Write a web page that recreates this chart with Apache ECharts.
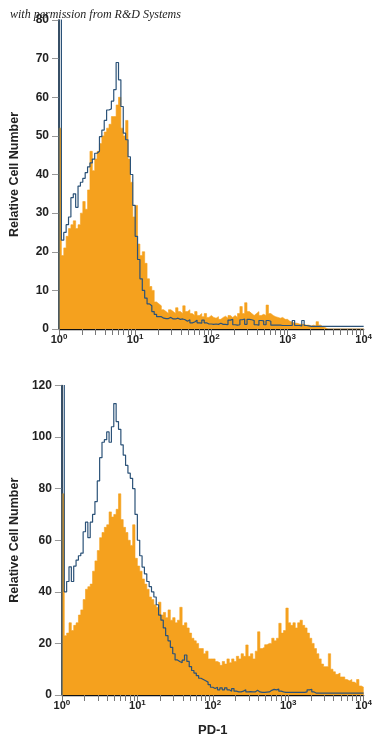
<!DOCTYPE html>
<html>
<head>
<meta charset="utf-8">
<script src="https://cdn.jsdelivr.net/npm/echarts@6/dist/echarts.min.js"></script>
<style>
html,body{margin:0;padding:0;background:#fff;}
#chart{width:375px;height:743px;}
</style>
</head>
<body>
<div id="chart"></div>
<script>
// Histogram channels: 32 bins per decade, 4 decades (10^0 .. 10^4)
const binsPerDecade = 32;
const decadeExponents = [0, 1, 2, 3, 4];
const minorMultipliers = [2, 3, 4, 5, 6, 7, 8, 9];
const yTitle = 'Relative Cell Number';
const xTitle = 'PD-1';
const credit = 'with permission from R&D Systems';

// Top panel: PD-1 stained (orange fill)
const topPD1 = [
  52, 19, 21, 24, 26, 27, 28, 26, 27, 30, 33, 31, 36, 46, 41, 44,
  46, 48, 50, 51, 52, 53, 55, 55, 58, 60, 52, 50, 54, 44, 38, 29,
  32, 22, 19, 20, 17, 13, 11, 10, 7, 6.5, 6, 5, 4.5, 4, 5, 4.5,
  4, 5.5, 4.5, 4, 6, 4.5, 5, 4, 3.5, 4.5, 3.5, 4, 3.2, 4, 3, 3.5,
  3, 2.8, 3.2, 2.5, 3, 3.3, 2.8, 3.5, 3, 3.5, 3, 4, 5.8, 4, 6.8, 4.5,
  4, 3.5, 4, 4.5, 3.5, 3.8, 3.5, 6.2, 4, 3.5, 3.2, 3, 2.8, 3, 2.5, 2.5,
  2, 1.8, 1.5, 1.5, 1.3, 1.2, 1.2, 1, 1, 0.8, 1, 0.8, 1.9, 1, 0.5, 0.3,
  0, 0, 0, 0, 0, 0, 0, 0, 0, 0, 0, 0, 0, 0, 0, 0
];
// Top panel: isotype control (blue outline)
const topIso = [
  95, 23, 25, 27, 29, 34, 35, 31.5, 37, 38, 39, 40.5, 42, 43, 44, 45.5,
  46, 49.8, 51.5, 54, 56.7, 57, 59, 62, 69, 64.5, 57.6, 50.7, 49, 44.6, 40, 32,
  24, 18, 13, 10, 8, 6.5, 6, 4.5, 3.8, 3.2, 3.2, 2.8, 2.7, 2.7, 3, 2.6,
  2.6, 2.8, 2.5, 2.6, 2.4, 2, 2.4, 1.6, 1.8, 2.3, 1.6, 1.5, 2.3, 1.6, 1.3, 1.3,
  1.2, 1.3, 1.2, 1.5, 1.2, 1.2, 1.1, 2.3, 2.5, 1.1, 1, 1.1, 2.4, 2.6, 1.2, 2.5,
  2.4, 2.2, 1.1, 1, 2.2, 2.1, 1.1, 2.2, 2, 1, 1, 1, 1, 0.9, 0.9, 0.9,
  0.9, 0.9, 2.2, 0.9, 0.9, 0.8, 2.2, 0.9, 0.8, 0.7, 0.7, 0.7, 0.7, 0.7, 0.7, 0.7,
  0.7, 0.7, 0.7, 0.7, 0.7, 0.7, 0.7, 0.7, 0.7, 0.7, 0.7, 0.7, 0.7, 0.7, 0.7, 0.7
];
// Bottom panel: PD-1 stained (orange fill)
const botPD1 = [
  78, 23, 24, 28, 25, 27, 28, 31, 33, 37, 41, 42, 43, 48, 52, 56,
  61, 63, 65, 66, 71, 69, 70, 72, 78, 68, 65, 63, 60, 58, 66, 53,
  50, 48, 45, 43, 41, 38, 37, 35, 34, 36, 31, 32, 30, 33, 29, 30,
  28, 29, 34, 27, 28, 26, 24, 22, 21, 20, 18, 18, 16, 17, 14, 14,
  14, 13, 12.5, 11.5, 13, 12, 14, 12.5, 14, 13, 15, 14, 16, 15, 19.4, 15,
  16, 14, 17, 24.5, 18, 18.5, 19.5, 20, 20, 22, 21, 22, 27.8, 24, 25, 33.7,
  28, 27, 28, 26, 28, 29, 27, 26, 24, 22, 20, 18, 16, 14, 12, 11,
  11, 16, 10, 9, 8, 8.5, 7, 7, 6, 5.5, 6, 5, 4.5, 6, 3.5, 3
];
// Bottom panel: isotype control (blue outline)
const botIso = [
  130, 40, 44, 49.7, 44, 50, 52.3, 54, 55, 63.3, 67, 61, 67, 70, 75, 83,
  92, 98, 99, 102, 98, 104, 113, 106, 103, 97, 93, 89, 86, 84, 80, 70,
  60, 54, 49.6, 47, 44, 42, 40, 38, 35, 31, 29, 26, 23, 21, 18.5, 16,
  13.6, 13, 12.5, 13.5, 15.5, 13, 11, 9.5, 8.5, 7.5, 6.5, 6, 5.5, 5, 4, 3,
  2.5, 3, 2, 2.8, 2, 2.8, 2, 1.5, 2.5, 1.5, 1.2, 1.2, 1.5, 2, 1.2, 1.3,
  1.2, 1.2, 1.8, 1.2, 1, 1, 1.1, 1.2, 1.8, 2.2, 2, 2.3, 1.5, 1.2, 1, 1,
  1, 1, 1, 1, 1, 1, 1, 1.2, 2, 2.2, 1.2, 0.7, 0.7, 0.7, 0.7, 0.7,
  0.7, 0.7, 0.7, 0.7, 0.7, 0.7, 0.7, 0.7, 0.7, 0.7, 0.7, 0.7, 0.7, 0.7, 0.7, 0.7
];

const ORANGE = '#F5A11E';
const BLUE = '#2b5278';
const FONT = '"Liberation Sans", Arial, sans-serif';

function toSteps(vals) {
  const pts = [[0, 0]];
  vals.forEach((v, i) => pts.push([i / binsPerDecade, v]));
  pts.push([vals.length / binsPerDecade, vals[vals.length - 1]]);
  return pts;
}

const minorTicks = [];
decadeExponents.slice(0, -1).forEach(d => minorMultipliers.forEach(m => minorTicks.push(d + Math.log10(m))));

function xAxes(gridIndex, withName) {
  const major = {
    type: 'value', gridIndex, min: 0, max: 4, interval: 1, position: 'bottom',
    axisLine: { show: true, lineStyle: { color: '#111', width: 1.3 } },
    axisTick: { show: true, length: 6, lineStyle: { color: '#777', width: 1 } },
    splitLine: { show: false },
    axisLabel: {
      margin: 4,
      formatter: v => '{b|10}{s|' + v + '}',
      rich: {
        b: { fontFamily: FONT, fontSize: 11, fontWeight: 'bold', color: '#222', lineHeight: 14 },
        s: { fontFamily: FONT, fontSize: 8, fontWeight: 'bold', color: '#222', verticalAlign: 'top', lineHeight: 9 }
      }
    }
  };
  if (withName) {
    major.name = xTitle;
    major.nameLocation = 'middle';
    major.nameGap = 29;
    major.nameTextStyle = { fontFamily: FONT, fontSize: 13, fontWeight: 'bold', color: '#222' };
  }
  const minor = {
    type: 'value', gridIndex, min: 0, max: 4, position: 'bottom',
    axisLine: { show: false },
    axisTick: { show: true, length: 6, customValues: minorTicks, lineStyle: { color: '#777', width: 1 } },
    axisLabel: { show: false },
    splitLine: { show: false }
  };
  return [major, minor];
}

function yAxis(gridIndex, max, interval) {
  return {
    type: 'value', gridIndex, min: 0, max, interval,
    name: yTitle, nameLocation: 'middle', nameGap: 38,
    nameTextStyle: { fontFamily: FONT, fontSize: 12.5, fontWeight: 'bold', color: '#222' },
    axisLine: { show: true, lineStyle: { color: '#111', width: 1.5 } },
    axisTick: { show: true, length: 7, lineStyle: { color: '#999', width: 1 } },
    splitLine: { show: false },
    axisLabel: { margin: 10, fontFamily: FONT, fontSize: 12, fontWeight: 'bold', color: '#222' }
  };
}

function area(xi, yi, vals) {
  return {
    type: 'line', xAxisIndex: xi, yAxisIndex: yi, step: 'end', symbol: 'none',
    data: toSteps(vals), lineStyle: { width: 0.6, color: ORANGE }, areaStyle: { color: ORANGE, opacity: 1 },
    z: 2, clip: true, animation: false
  };
}
function outline(xi, yi, vals) {
  return {
    type: 'line', xAxisIndex: xi, yAxisIndex: yi, step: 'end', symbol: 'none',
    data: toSteps(vals), lineStyle: { width: 1.2, color: BLUE }, z: 3, clip: true, animation: false
  };
}

const chart = echarts.init(document.getElementById('chart'), null, { renderer: 'canvas' });
chart.setOption({
  animation: false,
  backgroundColor: '#fff',
  grid: [
    { left: 55.6, top: 20, width: 311, height: 309 },
    { left: 55.7, top: 385.5, width: 312, height: 309.5 }
  ],
  xAxis: [...xAxes(0, false), ...xAxes(1, true)],
  yAxis: [yAxis(0, 80, 10), yAxis(1, 120, 20)],
  series: [
    area(0, 0, topPD1), outline(0, 0, topIso),
    area(2, 1, botPD1), outline(2, 1, botIso)
  ],
  graphic: [{
    type: 'text', left: 10, top: 9, z: 100,
    style: { text: credit, font: 'italic 12px "Liberation Serif", "DejaVu Serif", serif', fill: '#222' }
  }]
});
</script>
</body>
</html>
